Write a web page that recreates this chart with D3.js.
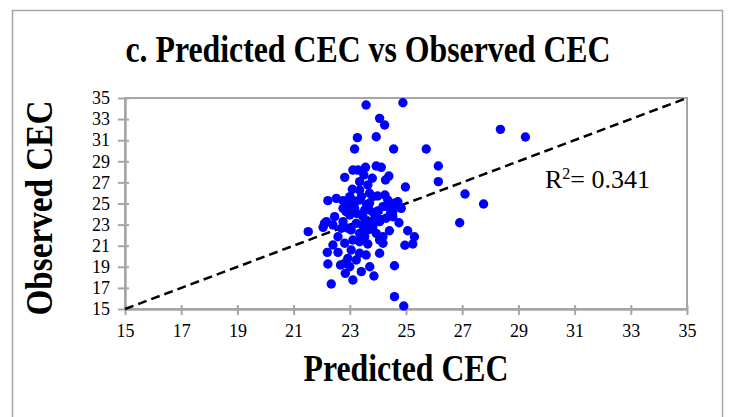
<!DOCTYPE html>
<html>
<head>
<meta charset="utf-8">
<script src="https://cdn.jsdelivr.net/npm/d3@7"></script>
<style>
  body { margin: 0; background: #fff; }
  svg { display: block; font-family: "Liberation Serif", "Times New Roman", serif; }
</style>
</head>
<body>
<svg id="chart" width="729" height="417"></svg>
<script>
/*
 * Predicted vs observed CEC scatter, with 1:1 reference line
 */

// predicted CEC (x) and observed CEC (y)
var predicted = [
    23.58, 24.89, 24.06, 24.24, 23.27, 23.94, 23.17, 24.56, 25.72, 28.36,
    29.25, 26.15, 26.15, 24.98, 27.10, 27.76, 26.91, 21.52, 24.59, 24.92,
    22.34, 22.22, 22.20, 24.59, 23.86, 23.71, 23.11, 23.41, 22.84, 22.67,
    25.06, 25.30, 25.24, 24.96, 24.75, 24.41, 24.06, 24.18, 23.64, 22.58,
    22.40, 22.22, 22.52, 22.76, 22.05, 22.17, 22.46, 22.76, 23.00, 22.82,
    23.11, 23.29, 23.56, 23.94, 24.12, 23.80, 24.27, 24.39, 23.50, 23.35,
    23.09, 23.35, 23.64, 23.70, 23.99, 23.09, 23.35, 24.59, 24.71, 24.83,
    24.53, 24.18, 24.29, 23.94, 23.70, 23.47, 23.23, 23.53, 23.82, 24.06,
    23.05, 23.35, 23.94, 22.82, 23.11, 23.05, 23.35, 23.58, 22.93, 23.23,
    22.82, 23.00, 22.40, 22.70, 22.93, 22.58, 22.10, 23.53, 24.06, 24.18,
    23.00, 23.41, 23.82, 24.35, 24.35, 24.53, 23.70, 23.53, 22.87, 23.17,
    22.76, 23.70, 23.35, 23.64, 23.85, 24.00, 23.60, 24.45, 24.70, 23.25,
    23.45, 23.75, 24.10, 22.95, 23.15, 24.25, 23.90, 23.40
];
var observed = [
    34.34, 34.55, 33.07, 32.44, 31.24, 31.33, 30.17, 30.17, 30.17, 32.03,
    31.30, 28.55, 27.07, 26.56, 25.90, 24.95, 23.18, 22.33, 16.17, 15.28,
    17.37, 19.27, 20.37, 19.10, 18.13, 19.00, 17.75, 18.54, 18.38, 19.17,
    22.42, 21.85, 21.16, 21.04, 23.18, 22.42, 20.28, 21.23, 21.16, 20.37,
    21.07, 25.27, 25.49, 25.27, 22.74, 23.28, 23.75, 24.54, 23.91, 27.48,
    28.17, 28.17, 28.43, 28.55, 28.43, 27.39, 27.23, 27.60, 27.70, 27.07,
    26.35, 26.28, 26.75, 25.97, 25.71, 25.33, 25.33, 25.02, 25.17, 24.54,
    24.22, 24.70, 23.60, 23.91, 24.38, 23.75, 23.12, 22.80, 22.80, 23.28,
    22.49, 22.17, 22.17, 21.23, 21.54, 20.59, 20.28, 20.12, 19.80, 19.64,
    19.33, 19.00, 22.96, 22.65, 22.65, 21.85, 23.12, 21.85, 21.54, 21.85,
    25.65, 25.65, 25.65, 24.70, 25.33, 23.75, 25.02, 24.38, 24.22, 24.54,
    23.28, 23.28, 21.38, 22.49, 24.10, 24.30, 24.90, 24.05, 24.85, 24.05,
    22.95, 22.60, 23.50, 24.85, 24.95, 25.80, 23.60, 21.90
];
var tickValues = [15, 17, 19, 21, 23, 25, 27, 29, 31, 33, 35];
var r2Label = "0.341";

var svg = d3.select('#chart');
var axisGray = '#a6a6a6';

// outer chart frame
svg.append('rect')
    .attr('x', 12.5).attr('y', 10.5)
    .attr('width', 710).attr('height', 420)
    .attr('fill', 'none')
    .attr('stroke', axisGray)
    .attr('stroke-width', 1.5);

var x = d3.scaleLinear().domain([15, 35]).range([125, 687]);
var y = d3.scaleLinear().domain([15, 35]).range([309, 98]);

// plot area border (top and right)
svg.append('rect')
    .attr('x', x(15)).attr('y', y(35))
    .attr('width', x(35) - x(15)).attr('height', y(15) - y(35))
    .attr('fill', 'none')
    .attr('stroke', axisGray)
    .attr('stroke-width', 2);

// axes
var xAxis = svg.append('g')
    .attr('transform', 'translate(0,' + y(15) + ')')
    .call(d3.axisBottom(x).tickValues(tickValues).tickSizeInner(6).tickSizeOuter(0).tickPadding(9));
var yAxis = svg.append('g')
    .attr('transform', 'translate(' + x(15) + ',0)')
    .call(d3.axisLeft(y).tickValues(tickValues).tickSizeInner(7).tickSizeOuter(0).tickPadding(8));

[xAxis, yAxis].forEach(function(ax) {
    ax.select('.domain').attr('stroke', axisGray).attr('stroke-width', 2.5);
    ax.selectAll('.tick line').attr('stroke', axisGray).attr('stroke-width', 2);
    ax.selectAll('.tick text')
        .attr('fill', '#000')
        .style('font-family', '"Liberation Serif", serif')
        .style('font-size', '18px');
});
// ticks poke a bit inside the plot as well
xAxis.selectAll('.tick line').attr('y1', -4);
yAxis.selectAll('.tick line').attr('x1', 4);

// 1:1 line
svg.append('line')
    .attr('x1', x(15)).attr('y1', y(15))
    .attr('x2', x(35)).attr('y2', y(35))
    .attr('stroke', '#000')
    .attr('stroke-width', 2.5)
    .attr('stroke-dasharray', '9,5');

// points
svg.append('g')
    .selectAll('circle')
    .data(d3.zip(predicted, observed))
    .join('circle')
    .attr('cx', function(d) { return x(d[0]); })
    .attr('cy', function(d) { return y(d[1]); })
    .attr('r', 4.7)
    .attr('fill', '#0000ff');

// title and axis titles
svg.append('text')
    .attr('x', 368).attr('y', 62)
    .attr('text-anchor', 'middle')
    .attr('font-weight', 'bold')
    .attr('font-size', 37)
    .attr('textLength', 485)
    .attr('lengthAdjust', 'spacingAndGlyphs')
    .text('c. Predicted CEC vs Observed CEC');

svg.append('text')
    .attr('x', 406).attr('y', 381)
    .attr('text-anchor', 'middle')
    .attr('font-weight', 'bold')
    .attr('font-size', 37)
    .attr('textLength', 205)
    .attr('lengthAdjust', 'spacingAndGlyphs')
    .text('Predicted CEC');

svg.append('text')
    .attr('transform', 'translate(52,208) rotate(-90)')
    .attr('text-anchor', 'middle')
    .attr('font-weight', 'bold')
    .attr('font-size', 37)
    .attr('textLength', 215)
    .attr('lengthAdjust', 'spacingAndGlyphs')
    .text('Observed CEC');

// R squared annotation
var r2 = svg.append('text')
    .attr('x', 545).attr('y', 188)
    .attr('font-size', 26);
r2.append('tspan').text('R');
r2.append('tspan').attr('font-size', 16).attr('dy', -9).text('2');
r2.append('tspan').attr('dy', 9).text('= ' + r2Label);
</script>
</body>
</html>
